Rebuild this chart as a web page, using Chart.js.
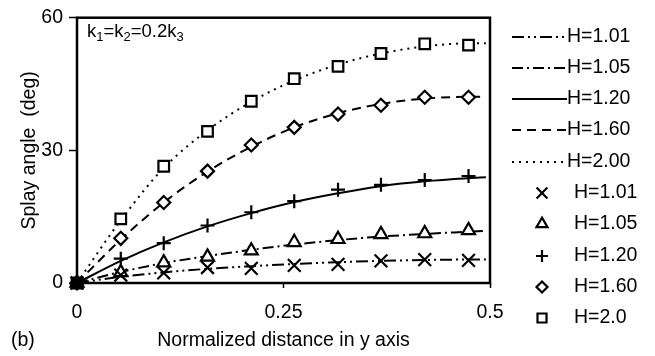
<!DOCTYPE html>
<html>
<head>
<meta charset="utf-8">
<script src="https://cdn.jsdelivr.net/npm/chart.js@4/dist/chart.umd.min.js"></script>
<style>
  html, body { margin: 0; padding: 0; background: #fff; }
  #wrap { width: 655px; height: 356px; }
</style>
</head>
<body>
<div id="wrap"><canvas id="chartSplay" width="655" height="356"></canvas></div>
<script>
// 数据：标记点（模拟值）和拟合曲线（理论值），全部从原图读取
const markerX = [0, 0.053, 0.105, 0.158, 0.211, 0.263, 0.316, 0.368, 0.421, 0.474];
const markH101 = [0, 1.8, 2.3, 3.5, 3.3, 4.0, 4.2, 5.0, 5.3, 5.1];
const markH105 = [0, 2.4, 4.6, 5.9, 7.3, 9.2, 9.9, 11.0, 11.2, 11.9];
const markH120 = [0, 5.5, 9.0, 13.0, 16.0, 18.5, 21.1, 22.2, 23.3, 24.2];
const markH160 = [0, 10.1, 18.2, 25.3, 31.2, 35.2, 38.2, 40.2, 42.0, 42.0];
const markH200 = [0, 14.5, 26.4, 34.3, 41.1, 46.2, 49.0, 51.9, 54.1, 53.8];

const curveX = [0, 0.053, 0.105, 0.158, 0.211, 0.263, 0.316, 0.368, 0.421, 0.474, 0.495];
const curveH101 = [0, 1.4, 2.4, 3.2, 3.8, 4.3, 4.7, 5.0, 5.2, 5.3, 5.3];
const curveH105 = [0, 2.5, 4.5, 6.1, 7.5, 8.7, 9.7, 10.5, 11.1, 11.6, 11.8];
const curveH120 = [0, 5.0, 9.2, 12.8, 15.8, 18.3, 20.3, 21.9, 23.0, 23.7, 23.9];
const curveH160 = [0, 9.8, 18.2, 25.2, 30.8, 35.2, 38.4, 40.5, 41.7, 42.1, 42.1];
const curveH200 = [0, 14.2, 26.0, 34.5, 41.0, 45.8, 49.4, 51.9, 53.5, 54.2, 54.2];

const curveLabels = ['H=1.01', 'H=1.05', 'H=1.20', 'H=1.60', 'H=2.00'];
const markerLabels = ['H=1.01', 'H=1.05', 'H=1.20', 'H=1.60', 'H=2.0'];
const xTickLabels = ['0', '0.25', '0.5'];
const yTickLabels = ['0', '30', '60'];

const FONT = '"Liberation Sans", Arial, sans-serif';
const FS = 19.5;

const SplayChart = (() => {
  // 线型：点划点、点划、实线、虚线、点线
  const dashes = [[12, 4, 2, 4, 2, 4], [11, 4, 2, 4], [], [9, 6], [2, 5]];
  const markers = [
    { style: 'crossRot', radius: 9 },
    { style: 'triangle', radius: 7.5 },
    { style: 'cross', radius: 7 },
    { style: 'rectRot', radius: 6.5 },
    { style: 'rect', radius: 7.5 }
  ];

  const pts = (xs, ys) => xs.map((x, i) => ({ x, y: ys[i] }));

  function buildDatasets() {
    const curves = [curveH101, curveH105, curveH120, curveH160, curveH200];
    const marks = [markH101, markH105, markH120, markH160, markH200];
    const ds = [];
    curves.forEach((c, i) => {
      ds.push({
        label: curveLabels[i], data: pts(curveX, c), showLine: true,
        borderColor: '#000', borderWidth: 2, borderDash: dashes[i],
        pointRadius: 0, tension: 0.4, cubicInterpolationMode: 'monotone', order: 2
      });
    });
    marks.forEach((m, i) => {
      ds.push({
        label: markerLabels[i], data: pts(markerX, m), showLine: false,
        pointStyle: markers[i].style, pointRadius: markers[i].radius,
        pointBorderWidth: 2.2, pointBorderColor: '#000',
        // 原点处所有标记重叠，原图呈实心黑块
        pointBackgroundColor: (c) => (c.dataIndex === 0 ? '#000' : '#fff'),
        clip: false, order: 1
      });
    });
    return ds;
  }

  // 外框 + 注释 + 右侧图例
  const decor = {
    id: 'decor',
    beforeDatasetsDraw(chart) {
      const { ctx, chartArea: a } = chart;
      ctx.save();
      ctx.strokeStyle = '#000';
      ctx.lineWidth = 2.5;
      ctx.strokeRect(a.left, a.top, a.right - a.left, a.bottom - a.top);
      ctx.restore();
    },
    afterDraw(chart) {
      const { ctx } = chart;
      ctx.save();
      ctx.fillStyle = '#000';
      ctx.textBaseline = 'alphabetic';

      // k1=k2=0.2k3
      let x = 87;
      const base = 37;
      const parts = [['k', 0], ['1', 1], ['=k', 0], ['2', 1], ['=0.2k', 0], ['3', 1]];
      parts.forEach(([t, sub]) => {
        ctx.font = (sub ? '13px ' : '18.5px ') + FONT;
        ctx.fillText(t, x, base + (sub ? 4 : 0));
        x += ctx.measureText(t).width;
      });

      // (b)
      ctx.font = FS + 'px ' + FONT;
      ctx.textBaseline = 'middle';
      ctx.fillText('(b)', 11, 341);

      // 线型图例
      const lineY = [37, 68, 99, 130, 162];
      ctx.strokeStyle = '#000';
      ctx.lineWidth = 2;
      curveLabels.forEach((lab, i) => {
        ctx.setLineDash(dashes[i]);
        ctx.beginPath();
        ctx.moveTo(512, lineY[i]);
        ctx.lineTo(567, lineY[i]);
        ctx.stroke();
        ctx.fillText(lab, 567, lineY[i]);
      });
      ctx.setLineDash([]);

      // 标记图例
      const markY = [193, 224, 256, 287, 318];
      markerLabels.forEach((lab, i) => {
        ctx.fillStyle = '#fff';
        ctx.lineWidth = 2.2;
        Chart.helpers.drawPoint(ctx, {
          pointStyle: markers[i].style, radius: markers[i].radius * 0.85,
          borderWidth: 2.2, rotation: 0
        }, 542, markY[i]);
        ctx.fillStyle = '#000';
        ctx.fillText(lab, 574, markY[i]);
      });
      ctx.restore();
    }
  };

  function render() {
    const ctx = document.getElementById('chartSplay');
    return new Chart(ctx, {
      type: 'scatter',
      data: { datasets: buildDatasets() },
      plugins: [decor],
      options: {
        responsive: false,
        animation: false,
        layout: { padding: { top: 10, right: 165, left: 0, bottom: 0 } },
        plugins: { legend: { display: false }, tooltip: { enabled: false } },
        scales: {
          x: {
            type: 'linear', min: 0, max: 0.5,
            afterFit: (s) => { s.height = 73; },
            afterBuildTicks: (s) => { s.ticks = [0, 0.25, 0.5].map(v => ({ value: v })); },
            ticks: {
              color: '#000', font: { family: FONT, size: FS }, padding: 13,
              callback: (v, i) => xTickLabels[i]
            },
            grid: { display: true, drawOnChartArea: false, tickLength: 5, tickColor: '#000', tickWidth: 1.5 },
            border: { display: false },
            title: {
              display: true, text: 'Normalized distance in y axis', color: '#000',
              font: { family: FONT, size: FS }, padding: { top: 0, bottom: 4 }
            }
          },
          y: {
            type: 'linear', min: 0, max: 60,
            afterFit: (s) => { s.width = 77; },
            afterBuildTicks: (s) => { s.ticks = [0, 30, 60].map(v => ({ value: v })); },
            ticks: {
              color: '#000', font: { family: FONT, size: FS }, padding: 6,
              callback: (v, i) => yTickLabels[i]
            },
            grid: { display: true, drawOnChartArea: false, tickLength: 8, tickColor: '#000', tickWidth: 1.5 },
            border: { display: false },
            title: {
              display: true, text: 'Splay angle  (deg)', color: '#000',
              font: { family: FONT, size: FS }, padding: { top: 18, bottom: 0 }
            }
          }
        }
      }
    });
  }

  return { render };
})();

SplayChart.render();
</script>
</body>
</html>
